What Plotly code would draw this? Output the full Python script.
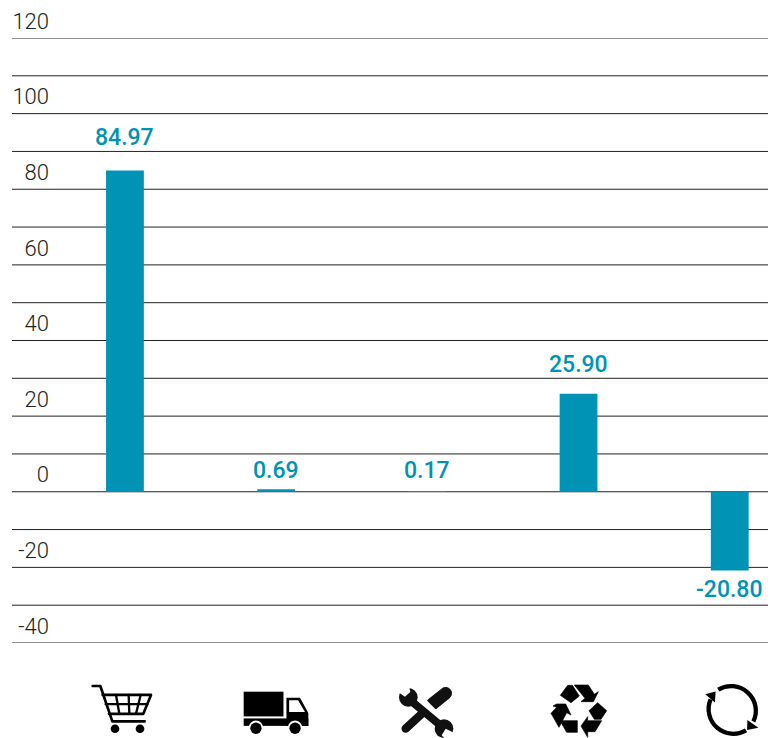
import base64
import plotly.graph_objects as go

categories = ["Purchasing", "Transport", "Maintenance", "Recycling", "Circularity"]
values = [84.97, 0.69, 0.17, 25.90, -20.80]
value_labels = ["84.97", "0.69", "0.17", "25.90", "-20.80"]
grid_values = list(range(-40, 130, 10))
tick_values = list(range(-40, 140, 20))
tick_labels = [str(v) for v in tick_values]
label_shifts = [33, 19, 21, 29, -19]

BLUE = "#0093b6"
INK = "#222222"

def svg(view, body):
    s = f'<svg xmlns="http://www.w3.org/2000/svg" viewBox="{view}">{body}</svg>'
    return "data:image/svg+xml;base64," + base64.b64encode(s.encode()).decode()

cart = svg("90 40 195 160",
    '<g fill="none" stroke="#000" stroke-width="8" stroke-linejoin="round" stroke-linecap="round">'
    '<path d="M98 49H121L157 156H254"/><path d="M128 76H273L250 133H147"/>'
    '<path d="M137 104H262M168 76L178 133M206 76L208 133M242 76L228 133" stroke-width="7"/></g>'
    '<circle cx="165" cy="178" r="13"/><circle cx="240" cy="178" r="13"/>')
truck = svg("545 60 205 130",
    '<rect x="550" y="65" width="120" height="73"/><rect x="550" y="144" width="195" height="22"/>'
    '<path d="M679 83H720L745 128V166H679Z"/><path d="M687 90H714L735 125H687Z" fill="#fff"/>'
    '<circle cx="587" cy="172" r="22" fill="#fff"/><circle cx="705" cy="172" r="22" fill="#fff"/>'
    '<circle cx="587" cy="173" r="17"/><circle cx="705" cy="173" r="17"/>')
tools = svg("0 0 195 174",
    '<g fill="none" stroke-linecap="round" stroke="#111">'
    '<path d="M112 72L152 40" stroke-width="38"/><path d="M112 72L32 146" stroke-width="25"/>'
    '<path d="M78 66L118 106" stroke="#fff" stroke-width="31" stroke-linecap="butt"/>'
    '<path d="M45 60L135 135" stroke-width="24"/></g>'
    '<circle cx="40" cy="52" r="28" fill="#111"/><circle cx="147" cy="146" r="28" fill="#111"/>'
    '<path d="M8 35L30 50L46 36L40 10L8 10Z" fill="#fff"/><path d="M180 160L152 146L140 166L152 178L180 178Z" fill="#fff"/>')
recycle = svg("0 0 210 174",
    '<g stroke="#000" stroke-width="2" stroke-linejoin="round">'
    '<path d="M46 46L68 16H82L103 48L78 68Z"/><path d="M88 15H130L148 43L160 35L145 65H108L120 55Z"/>'
    '<path d="M158 68L185 92L168 118H148L132 92Z"/><path d="M108 138L128 110V122H170L150 155H128V172Z"/>'
    '<path d="M45 122H97V157H65Z"/><path d="M35 72H62L78 105L65 98L42 142L18 100L35 82L24 78Z"/></g>')
cycle = svg("970 35 175 170",
    '<g fill="none" stroke="#000" stroke-width="13">'
    '<path d="M1016 58A75 75 0 0 1 1122 155"/><path d="M1100 182A75 75 0 0 1 993 88"/></g>'
    '<path d="M1104 150L1137 174L1103 181Z"/><path d="M977 72L1008 64L1006 97Z"/>')

icons = [cart, truck, tools, recycle, cycle]
icon_boxes = [(90, 683, 65, 53), (242, 690, 68, 44), (395, 680, 65, 58), (545, 680, 70, 58), (703, 682, 58, 56)]

fig = go.Figure(go.Bar(x=categories, y=values, marker_color=BLUE, marker_line_width=0,
                       width=0.25, cliponaxis=False))

for c, v, t, s in zip(categories, values, value_labels, label_shifts):
    fig.add_annotation(x=c, y=v, text=t, showarrow=False, yshift=s,
                       font=dict(family="Roboto", size=23, color=BLUE, weight=500))

W, H = 773, 738
for src, (x, y, w, h) in zip(icons, icon_boxes):
    fig.add_layout_image(source=src, xref="paper", yref="paper", xanchor="left", yanchor="top",
                         x=(x - 12) / 756, y=1 - (y - 38) / 605, sizex=w / 756, sizey=h / 605,
                         sizing="stretch", layer="above")

for g in grid_values:
    fig.add_shape(type="line", xref="paper", yref="y", x0=0, x1=1, y0=g, y1=g,
                  line=dict(color=INK, width=1), layer="below")

fig.update_layout(
    width=W, height=H, autosize=False, showlegend=False,
    margin=dict(l=12, r=5, t=38, b=95, autoexpand=False),
    paper_bgcolor="white", plot_bgcolor="white",
    xaxis=dict(type="category", range=[-0.747, 4.253], showgrid=False, zeroline=False,
               showticklabels=False, ticks="", showline=False),
    yaxis=dict(range=[-40, 120], tickvals=tick_values, ticktext=tick_labels, showgrid=False,
               zeroline=False, showline=False, ticks="", ticklabelstandoff=-38, ticklabelshift=-17,
               tickfont=dict(family="Roboto", size=22, color=INK, weight=300)),
)
fig.write_html("out.html", config={"displayModeBar": False},
               post_script="document.body.style.margin='0';")
